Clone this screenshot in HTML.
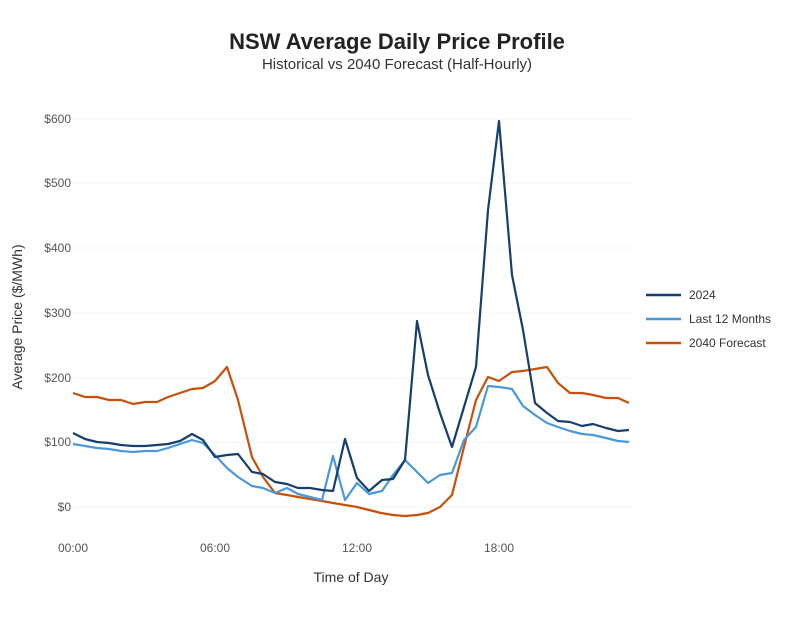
<!DOCTYPE html>
<html><head><meta charset="utf-8"><style>
body{margin:0;background:#fff;}
svg text{font-family:"Liberation Sans",sans-serif;}
</style></head><body>
<svg width="795" height="612" viewBox="0 0 795 612">
<text x="397" y="49" text-anchor="middle" font-size="22" font-weight="bold" fill="#222">NSW Average Daily Price Profile</text>
<text x="397" y="69" text-anchor="middle" font-size="15" fill="#333">Historical vs 2040 Forecast (Half-Hourly)</text>
<g stroke="#f4f4f4" stroke-width="1">
<line x1="73" x2="632" y1="119" y2="119"/><line x1="73" x2="632" y1="183" y2="183"/><line x1="73" x2="632" y1="248" y2="248"/><line x1="73" x2="632" y1="313" y2="313"/><line x1="73" x2="632" y1="378" y2="378"/><line x1="73" x2="632" y1="442" y2="442"/><line x1="73" x2="632" y1="507" y2="507"/>
</g>
<g font-size="12" fill="#555" text-anchor="end">
<text x="71" y="123">$600</text><text x="71" y="187">$500</text><text x="71" y="252">$400</text><text x="71" y="317">$300</text><text x="71" y="382">$200</text><text x="71" y="446">$100</text><text x="71" y="511">$0</text>
</g>
<g font-size="12" fill="#555" text-anchor="middle">
<text x="73" y="552">00:00</text><text x="215" y="552">06:00</text><text x="357" y="552">12:00</text><text x="499" y="552">18:00</text>
</g>
<text x="351" y="582" text-anchor="middle" font-size="14" fill="#333">Time of Day</text>
<text transform="translate(22,317) rotate(-90)" text-anchor="middle" font-size="14" fill="#333">Average Price ($/MWh)</text>
<g fill="none" stroke-width="2.2" stroke-linejoin="round">
<polyline stroke="#c9500a" points="73,393 85,397 97,397 109,400 121,400 133,404 145,402 157,402 168,397 180,393 192,389 203,388 215,381 227,367 238,400 252,457 263,477 275,493 287,495 298,497 310,499 322,501 333,503 345,505 357,507 369,510 381,513 393,515 405,516 417,515 428,513 440,507 452,495 464,447 476,400 488,377 499,381 512,372 523,371 535,369 547,367 558,383 570,393 582,393 593,395 606,398 618,398 629,403"/>
<polyline stroke="#4a98dc" points="73,444 85,446 97,448 109,449 121,451 133,452 145,451 157,451 168,448 180,444 192,440 203,443 215,455 227,468 238,477 252,486 263,488 275,493 287,488 298,494 310,497 322,500 333,456 345,500 357,483 369,494 382,491 393,475 405,460 417,472 428,483 440,475 452,473 464,440 476,427 488,386 499,387 512,389 523,406 535,415 547,423 558,427 570,431 582,434 593,435 606,438 618,441 629,442"/>
<polyline stroke="#163f6e" points="73,433 85,439 97,442 109,443 121,445 133,446 145,446 157,445 168,444 180,441 192,434 203,440 215,457 227,455 238,454 252,472 263,474 275,482 287,484 298,488 310,488 322,490 333,491 345,439 357,478 369,491 382,480 393,479 405,460 417,321 428,375 440,413 452,447 464,407 476,367 488,210 499,121 512,275 523,330 535,403 547,413 558,421 570,422 582,426 593,424 606,428 618,431 629,430"/>
</g>
<g stroke-width="2.5">
<line x1="646" x2="681" y1="295" y2="295" stroke="#163f6e"/>
<line x1="646" x2="681" y1="319" y2="319" stroke="#4a98dc"/>
<line x1="646" x2="681" y1="343" y2="343" stroke="#c9500a"/>
</g>
<g font-size="12" fill="#333">
<text x="689" y="299">2024</text><text x="689" y="323">Last 12 Months</text><text x="689" y="347">2040 Forecast</text>
</g>
</svg>
</body></html>
